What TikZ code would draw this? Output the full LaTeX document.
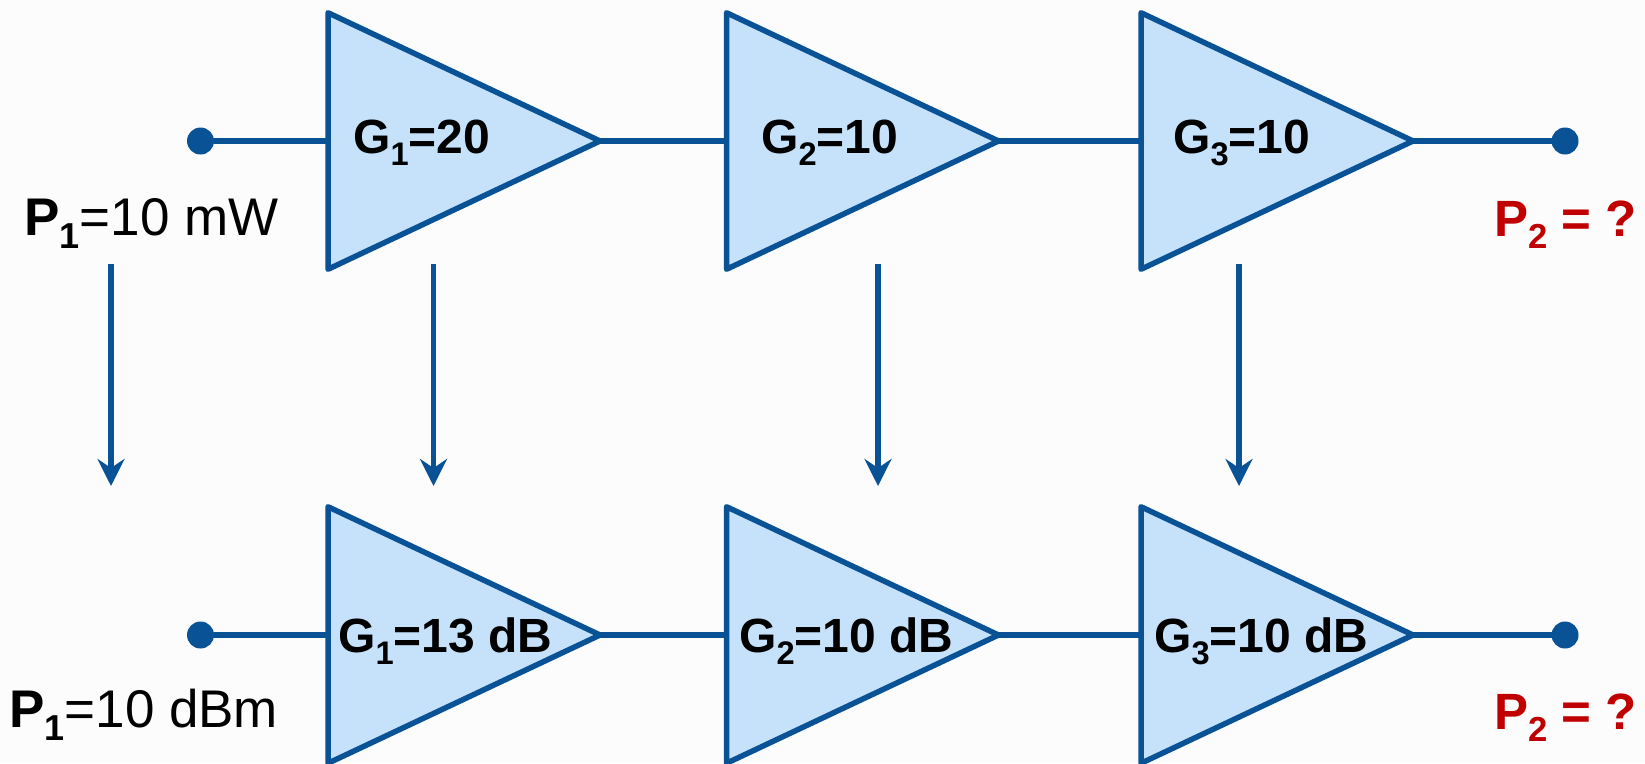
\documentclass[tikz,border=0pt]{standalone}
\usepackage{fontspec}
\setmainfont{Liberation Sans}
\usetikzlibrary{shapes.geometric,arrows.meta}
\definecolor{lineblue}{HTML}{0A5296}
\definecolor{fillblue}{HTML}{C6E2FB}
\definecolor{darkred}{HTML}{C00000}
\newcommand{\subs}[1]{\raisebox{-0.25em}{\fontsize{0.68em}{0.68em}\selectfont #1}}
\tikzset{
  x=1pt,y=-1pt,
  amp/.style={isosceles triangle,isosceles triangle apex angle=50,isosceles triangle stretches,
    shape border rotate=0,minimum width=256.5pt,minimum height=272pt,inner sep=0pt,outer sep=0pt,
    draw=lineblue,fill=fillblue,line width=5.5pt,line join=round,anchor=lower side},
  wire/.style={draw=lineblue,line width=5.5pt},
  term/.style={circle,fill=lineblue,minimum size=27pt,inner sep=0pt,outer sep=0pt},
  down/.style={draw=lineblue,line width=5.5pt,-{Stealth[length=27pt,width=27pt,inset=9pt]}},
  gain/.style={anchor=base west,inner sep=0pt,font=\fontsize{48}{48}\selectfont\bfseries,text=black},
  pow/.style={anchor=base west,inner sep=0pt,font=\fontsize{53}{53}\selectfont,text=black},
  ask/.style={anchor=base west,inner sep=0pt,font=\fontsize{51}{51}\selectfont\bfseries,text=darkred},
}
\begin{document}
\begin{tikzpicture}
\useasboundingbox (0,0) rectangle (1645,763);
\fill[white!99!black] (0,0) rectangle (1645,763);
% top row
\node[amp] (a1) at (328,141) {};
\node[amp] (a2) at (726.5,141) {};
\node[amp] (a3) at (1141,141) {};
\node[term] (in1) at (200.5,141) {};
\node[term] (out1) at (1565,141) {};
% bottom row
\node[amp] (b1) at (328,635) {};
\node[amp] (b2) at (726.5,635) {};
\node[amp] (b3) at (1141,635) {};
\node[term] (in2) at (200.5,635) {};
\node[term] (out2) at (1565,635) {};
% wires
\draw[wire] (in1) -- (a1.lower side);
\draw[wire] (a1.apex) -- (a2.lower side);
\draw[wire] (a2.apex) -- (a3.lower side);
\draw[wire] (a3.apex) -- (out1);
\draw[wire] (in2) -- (b1.lower side);
\draw[wire] (b1.apex) -- (b2.lower side);
\draw[wire] (b2.apex) -- (b3.lower side);
\draw[wire] (b3.apex) -- (out2);
% arrows
\coordinate (s0) at (111,264); \coordinate (e0) at (111,486);
\coordinate (s1) at (433.5,264); \coordinate (e1) at (433.5,486);
\coordinate (s2) at (878,264); \coordinate (e2) at (878,486);
\coordinate (s3) at (1239,264); \coordinate (e3) at (1239,486);
\draw[down] (s0) -- (e0);
\draw[down] (s1) -- (e1);
\draw[down] (s2) -- (e2);
\draw[down] (s3) -- (e3);
% labels
\node[gain] (g1) at (353,153) {G\subs{1}=20};
\node[gain] (g2) at (761,153) {G\subs{2}=10};
\node[gain] (g3) at (1173,153) {G\subs{3}=10};
\node[gain] (h1) at (338,652) {G\subs{1}=13 dB};
\node[gain] (h2) at (739,652) {G\subs{2}=10 dB};
\node[gain] (h3) at (1154,652) {G\subs{3}=10 dB};
\node[pow] (p1) at (24,235) {\textbf{P\subs{1}}=10 mW};
\node[pow] (q1) at (9,727) {\textbf{P\subs{1}}=10 dBm};
\node[ask] (p2) at (1494,236) {P\subs{2} = ?};
\node[ask] (q2) at (1494,729) {P\subs{2} = ?};
\end{tikzpicture}
\end{document}
